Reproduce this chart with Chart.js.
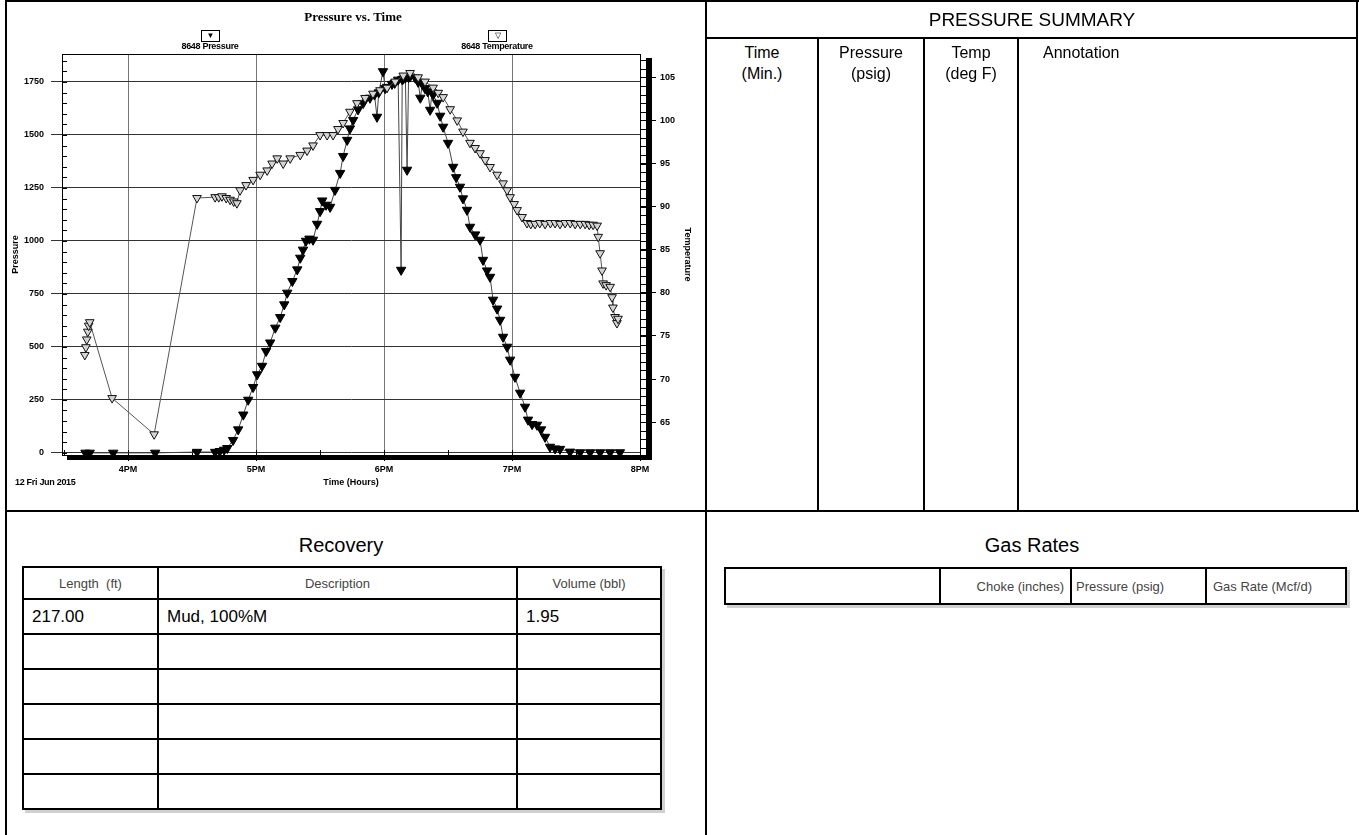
<!DOCTYPE html>
<html>
<head>
<meta charset="utf-8">
<title>Pressure vs. Time</title>
<script src="https://cdn.jsdelivr.net/npm/chart.js@4.4.1/dist/chart.umd.min.js"></script>
<style>
  body { margin: 0; background: #fff; font-family: "Liberation Sans", Arial, sans-serif; }
  #pagina { position: relative; width: 1359px; height: 835px; overflow: hidden; background: #fff; }
  #grafica { position: absolute; left: 0; top: 0; }
  .linea { position: absolute; background: #000; z-index: 2; }
  .txt { position: absolute; white-space: nowrap; color: #000; z-index: 3; }
  .chico { font-family: "Liberation Sans Narrow", "Liberation Sans", Arial, sans-serif; font-weight: bold; font-size: 9px; letter-spacing: -0.3px; }
  .caja { position: absolute; width: 17px; height: 10px; border: 1px solid #000; font-size: 8px; line-height: 10px; text-align: center; z-index: 3; background: #fff; }
  .resumen { font-size: 16px; text-align: center; line-height: 21px; }
  table { position: absolute; border-collapse: collapse; z-index: 3; box-shadow: 3px 3px 0 #d0d0d0; }
  td { border: 2px solid #000; padding: 0 8px; }
  .cab td { font-size: 13px; color: #444; }
</style>
</head>
<body>
<div id="pagina">
  <canvas id="grafica" width="705" height="510"></canvas>

  <!-- marco general -->
  <div class="linea" style="left:5px;top:0;width:1354px;height:2px"></div>
  <div class="linea" style="left:5px;top:0;width:2px;height:835px"></div>
  <div class="linea" style="left:705px;top:0;width:2px;height:835px"></div>
  <div class="linea" style="left:1356px;top:0;width:2px;height:512px"></div>
  <div class="linea" style="left:5px;top:510px;width:1354px;height:2px"></div>

  <!-- titulo y leyenda del grafico -->
  <div class="txt" style="left:253px;top:9px;width:200px;text-align:center;font:bold 13px 'Liberation Serif','Times New Roman',serif">Pressure vs. Time</div>
  <div class="caja" style="left:201px;top:30px">&#9660;</div>
  <div class="txt chico" style="left:150px;top:41px;width:120px;text-align:center">8648 Pressure</div>
  <div class="caja" style="left:488px;top:30px">&#9661;</div>
  <div class="txt chico" style="left:437px;top:41px;width:120px;text-align:center">8648 Temperature</div>
  <div class="txt chico" style="left:15px;top:477px">12 Fri Jun 2015</div>

  <!-- resumen de presion -->
  <div class="txt" style="left:707px;top:9px;width:650px;text-align:center;font-size:19px">PRESSURE SUMMARY</div>
  <div class="linea" style="left:706px;top:37px;width:652px;height:2px"></div>
  <div class="linea" style="left:817px;top:38px;width:2px;height:473px"></div>
  <div class="linea" style="left:923px;top:38px;width:2px;height:473px"></div>
  <div class="linea" style="left:1017px;top:38px;width:2px;height:473px"></div>
  <div class="txt resumen" style="left:707px;top:42px;width:110px">Time<br>(Min.)</div>
  <div class="txt resumen" style="left:819px;top:42px;width:104px">Pressure<br>(psig)</div>
  <div class="txt resumen" style="left:925px;top:42px;width:92px">Temp<br>(deg F)</div>
  <div class="txt resumen" style="left:1043px;top:42px;text-align:left">Annotation</div>

  <!-- recuperacion -->
  <div class="txt" style="left:22px;top:534px;width:638px;text-align:center;font-size:20px">Recovery</div>
  <table style="left:22px;top:566px;width:640px">
    <tr class="cab" style="height:32px"><td style="width:117px;text-align:center">Length&nbsp; (ft)</td><td style="text-align:center">Description</td><td style="width:126px;text-align:center">Volume (bbl)</td></tr>
    <tr style="height:35px;font-size:17px"><td>217.00</td><td>Mud, 100%M</td><td>1.95</td></tr>
    <tr style="height:35px"><td></td><td></td><td></td></tr>
    <tr style="height:35px"><td></td><td></td><td></td></tr>
    <tr style="height:35px"><td></td><td></td><td></td></tr>
    <tr style="height:35px"><td></td><td></td><td></td></tr>
    <tr style="height:35px"><td></td><td></td><td></td></tr>
  </table>

  <!-- tasas de gas -->
  <div class="txt" style="left:707px;top:534px;width:650px;text-align:center;font-size:20px">Gas Rates</div>
  <table style="left:724px;top:567px;width:623px">
    <tr class="cab" style="height:36px"><td style="width:197px"></td><td style="width:115px;text-align:right;padding-right:6px">Choke (inches)</td><td style="width:121px;padding-left:4px">Pressure (psig)</td><td style="padding-left:6px">Gas Rate (Mcf/d)</td></tr>
  </table>
</div>

<script>
// Datos: tiempo en minutos desde las 3:00 PM
const tiemposPresion = [40, 42, 53, 72.7, 92.3, 100.8, 103, 105, 106.5, 109.2, 111.6, 114, 116.3, 118.6, 120.5, 122.8, 124.7, 126.6, 129, 131.3, 133.2, 134.6, 137, 139.3, 140.7, 142, 143.4, 145, 146.7, 148.6, 150, 151, 152.8, 154.7, 157, 159.4, 160.8, 162.7, 164, 165.5, 167.8, 170.2, 173.4, 175.5, 176.7, 177.5, 179.5, 180.5, 181.4, 183.7, 185, 186.6, 188, 188.5, 189, 190, 190.8, 191.5, 192.2, 194.6, 196, 197, 198, 199.2, 200.5, 201.6, 202.5, 203, 204.9, 206.3, 207.7, 210, 212.4, 213.8, 215.6, 217, 218.9, 220.3, 222.7, 225, 226.4, 228.3, 229.7, 231.1, 233, 234.4, 235.8, 237.7, 239.1, 241.4, 243.8, 246.1, 247.5, 249.4, 251.7, 253.6, 255.5, 257.8, 260.2, 262.5, 267.2, 271.9, 276.6, 281.3, 286, 290.6];
const valoresPresion = [0, 0, 0, 0, 4, 4, 8, 14, 22, 60, 110, 180, 250, 310, 370, 410, 480, 520, 590, 640, 700, 755, 810, 865, 920, 958, 1000, 1010, 1005, 1080, 1140, 1190, 1170, 1160, 1240, 1320, 1400, 1476, 1530, 1570, 1620, 1650, 1675, 1690, 1585, 1700, 1800, 1720, 1726, 1740, 1745, 1760, 863, 1762, 1765, 1770, 1335, 1772, 1775, 1770, 1750, 1675, 1740, 1720, 1705, 1618, 1700, 1690, 1651, 1590, 1538, 1462, 1349, 1300, 1255, 1200, 1146, 1066, 1030, 1005, 910, 860, 830, 722, 680, 627, 547, 500, 439, 358, 283, 217, 156, 135, 132, 110, 75, 28, 20, 18, 5, 2, 2, 2, 2, 2];

const tiemposTemperatura = [39.7, 40.2, 40.6, 41.1, 41.5, 42, 52.5, 72.2, 92.3, 100.8, 102.5, 104, 106, 107.8, 109.5, 111, 112.5, 115.3, 118.6, 121.9, 125.2, 127.5, 129.9, 132.7, 136, 140.7, 143.9, 146.7, 150, 153.3, 156.1, 158.4, 160.8, 164, 167.3, 171.1, 174.8, 178.1, 181.4, 185.2, 189, 192.2, 196, 199.2, 203, 205.4, 207.7, 211, 214.3, 217, 220.3, 222.7, 225, 227.4, 229.7, 233, 235.8, 237.7, 239.1, 241, 242.4, 244.7, 247, 248.8, 250.8, 253, 255.5, 258, 260.2, 262.5, 264.9, 267.3, 269.6, 272, 274.3, 276.2, 278, 279.9, 280.4, 281.3, 282.2, 282.7, 284.1, 286, 286.9, 287.3, 288.3, 289.2, 289.7];
const valoresTemperatura = [72.8, 73.7, 74.6, 75.5, 76.2, 76.6, 67.8, 63.6, 91.0, 91.1, 91.1, 91.2, 91.0, 90.8, 90.6, 90.4, 91.9, 92.5, 93.1, 93.7, 94.2, 95.0, 95.6, 95.0, 95.6, 96.0, 96.5, 97.1, 98.3, 98.3, 98.3, 99.0, 99.7, 101.0, 102.0, 102.6, 103.1, 103.5, 103.8, 104.5, 105.2, 105.5, 105.0, 104.5, 103.8, 103.2, 102.7, 101.3, 100.0, 98.7, 97.4, 96.8, 96.2, 95.4, 94.6, 93.7, 92.7, 91.9, 91.1, 90.3, 89.6, 88.8, 88.1, 88.0, 88.0, 88.1, 88.0, 88.1, 88.1, 88.0, 88.1, 88.1, 88.0, 88.0, 88.0, 87.9, 87.9, 87.8, 86.5, 84.6, 82.6, 81.1, 80.9, 80.7, 79.5, 78.3, 77.2, 76.5, 77.0];

const ticksTiempo = [60, 120, 180, 240, 300];
const etiquetasTiempo = ["4PM", "5PM", "6PM", "7PM", "8PM"];
const ticksPresion = [0, 250, 500, 750, 1000, 1250, 1500, 1750];
const ticksTemperatura = [65, 70, 75, 80, 85, 90, 95, 100, 105];

const fuenteEjes = { family: "'Liberation Sans Narrow', 'Liberation Sans', Arial", size: 9, weight: "bold" };

// Marco, sombra y marcas menores del area del grafico
const marcoGrafico = {
  id: "marcoGrafico",
  beforeDatasetsDraw(chart) {
    const { ctx, chartArea: a, scales } = chart;
    ctx.save();
    ctx.fillStyle = "#000";
    ctx.fillRect(a.right + 6, a.top + 4, 6, a.bottom - a.top + 1);
    ctx.fillRect(a.left + 5, a.bottom, a.right - a.left + 7, 5);
    ctx.strokeStyle = "#000";
    ctx.lineWidth = 1;
    ctx.strokeRect(a.left + 0.5, a.top + 0.5, a.right - a.left, a.bottom - a.top);
    ctx.beginPath();
    for (let v = 0; v <= 1850; v += 50) {
      const y = Math.round(scales.y.getPixelForValue(v)) + 0.5;
      ctx.moveTo(a.left, y);
      ctx.lineTo(a.left + 5, y);
    }
    for (let v = 62; v <= 107; v += 1) {
      const y = Math.round(scales.y2.getPixelForValue(v)) + 0.5;
      ctx.moveTo(a.right, y);
      ctx.lineTo(a.right + 6, y);
    }
    for (let v = 30; v <= 300; v += 30) {
      const x = Math.round(scales.x.getPixelForValue(v)) + 0.5;
      ctx.moveTo(x, a.bottom);
      ctx.lineTo(x, a.bottom - 5);
    }
    ctx.stroke();
    ctx.restore();
  }
};

const contexto = document.getElementById("grafica");

new Chart(contexto, {
  type: "scatter",
  data: {
    datasets: [
      {
        label: "8648 Temperature",
        yAxisID: "y2",
        data: tiemposTemperatura.map((t, i) => ({ x: t, y: valoresTemperatura[i] })),
        showLine: true,
        borderColor: "#555",
        borderWidth: 1,
        pointStyle: "triangle",
        pointRotation: 180,
        pointRadius: 5,
        pointBackgroundColor: "#d4d4d4",
        pointBorderColor: "#111",
        pointBorderWidth: 1,
      },
      {
        label: "8648 Pressure",
        yAxisID: "y",
        data: tiemposPresion.map((t, i) => ({ x: t, y: valoresPresion[i] })),
        showLine: true,
        borderColor: "#444",
        borderWidth: 1,
        pointStyle: "triangle",
        pointRotation: 180,
        pointRadius: 5.4,
        pointBackgroundColor: "#000",
        pointBorderColor: "#000",
        pointBorderWidth: 1,
      },
    ],
  },
  options: {
    responsive: false,
    animation: false,
    layout: { padding: { top: 54 } },
    plugins: {
      legend: { display: false },
      title: { display: false },
      tooltip: { enabled: false },
    },
    scales: {
      x: {
        type: "linear",
        position: "bottom",
        min: 29,
        max: 300,
        afterFit: (s) => { s.height = 55; },
        afterBuildTicks: (s) => { s.ticks = ticksTiempo.map((v) => ({ value: v })); },
        ticks: { font: fuenteEjes, color: "#000", padding: 3, maxRotation: 0, autoSkip: false, callback: (v, i) => etiquetasTiempo[i] },
        grid: { color: "#777", tickLength: 6, tickColor: "#000" },
        border: { color: "#000" },
        title: { display: true, text: "Time (Hours)", font: fuenteEjes, color: "#000", padding: { bottom: 22 } },
      },
      y: {
        type: "linear",
        position: "left",
        min: -10,
        max: 1882,
        afterFit: (s) => { s.width = 62; },
        afterBuildTicks: (s) => { s.ticks = ticksPresion.map((v) => ({ value: v })); },
        ticks: { font: fuenteEjes, color: "#000", padding: 7, callback: (v) => String(v) },
        grid: { color: "#333", tickLength: 11, tickColor: "#333" },
        border: { color: "#000" },
        title: { display: true, text: "Pressure", font: fuenteEjes, color: "#000", padding: { top: 10 } },
      },
      y2: {
        type: "linear",
        position: "right",
        min: 61.2,
        max: 107.7,
        afterFit: (s) => { s.width = 65; },
        afterBuildTicks: (s) => { s.ticks = ticksTemperatura.map((v) => ({ value: v })); },
        ticks: { font: fuenteEjes, color: "#000", padding: 4, callback: (v) => String(v) },
        grid: { drawOnChartArea: false, tickLength: 16, tickColor: "#000" },
        border: { color: "#000" },
        title: { display: true, text: "Temperature", font: fuenteEjes, color: "#000", padding: { top: 12 } },
      },
    },
  },
  plugins: [marcoGrafico],
});
</script>
</body>
</html>
